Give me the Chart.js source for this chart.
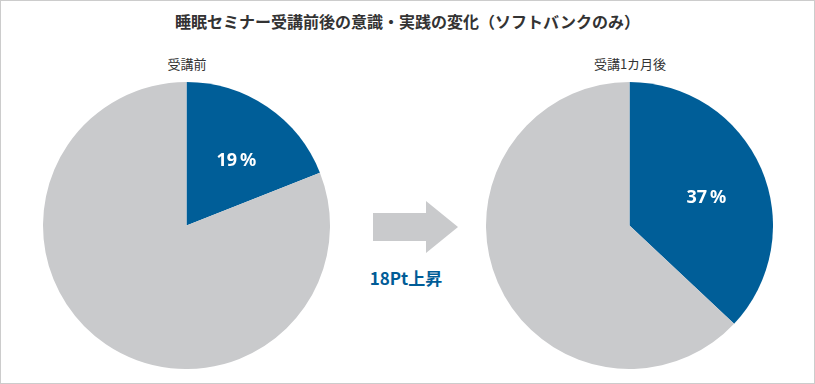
<!DOCTYPE html>
<html lang="ja">
<head>
    <meta charset="UTF-8">
    <title>睡眠セミナー受講前後の意識・実践の変化</title>
    <style>
        html, body {
            margin: 0;
            padding: 0;
            background: #fff;
        }
        body {
            font-family: "Noto Sans CJK JP", "Noto Sans", sans-serif;
            color: #333;
        }
        .frame {
            position: relative;
            width: 813px;
            height: 382px;
            border: 1px solid #cccccc;
            overflow: hidden;
        }
        .titulo {
            position: absolute;
            left: 0;
            width: 813px;
            top: 8px;
            text-align: center;
            font-size: 16px;
            font-weight: bold;
        }
        .sub {
            position: absolute;
            top: 53px;
            width: 200px;
            text-align: center;
            font-size: 13px;
        }
        .pie {
            position: absolute;
            top: 81px;
            width: 287px;
            height: 287px;
        }
        .rise {
            position: absolute;
            left: 345px;
            width: 120px;
            top: 264px;
            text-align: center;
            color: #005c97;
            font-size: 17px;
            font-weight: bold;
        }
        svg.arrow {
            position: absolute;
            left: 371px;
            top: 199px;
        }
    </style>
</head>
<body>
<div class="frame">
    <div class="titulo">睡眠セミナー受講前後の意識・実践の変化（ソフトバンクのみ）</div>
    <div class="sub" style="left:86px">受講前</div>
    <div class="sub" style="left:529px">受講1カ月後</div>

    <div class="pie" style="left:42px"><canvas id="beforeChart"></canvas></div>
    <div class="pie" style="left:485px"><canvas id="afterChart"></canvas></div>

    <svg class="arrow" width="90" height="56">
        <polygon points="1,13 54,13 54,1 86,27 54,53 54,41 1,41" fill="#c9cacc"/>
    </svg>
    <div class="rise">18Pt上昇</div>
</div>

<script src="https://cdn.jsdelivr.net/npm/chart.js"></script>
<script>
    const labels = ['該当', 'その他'];
    const beforeValues = [19, 81];
    const afterValues = [37, 63];
    const colors = ['#005e98', '#c9cacc'];

    // porcentaje en blanco dentro del sector azul
    const pctLabel = {
        id: 'pctLabel',
        afterDatasetsDraw(chart) {
            const ctx = chart.ctx;
            const arc = chart.getDatasetMeta(0).data[0];
            const val = chart.data.datasets[0].data[0];
            const mid = (arc.startAngle + arc.endAngle) / 2 + 0.06;
            const r = arc.outerRadius * 0.57;
            const x = arc.x + Math.cos(mid) * r;
            const y = arc.y + Math.sin(mid) * r;
            ctx.save();
            ctx.fillStyle = '#fff';
            ctx.font = 'bold 18px "Noto Sans", sans-serif';
            ctx.textAlign = 'center';
            ctx.textBaseline = 'middle';
            ctx.fillText(val + '\u2009%', x, y);
            ctx.restore();
        }
    };

    function makePie(id, values) {
        new Chart(document.getElementById(id), {
            type: 'pie',
            data: {
                labels: labels,
                datasets: [{
                    data: values,
                    backgroundColor: colors,
                    borderWidth: 0
                }]
            },
            options: {
                responsive: true,
                maintainAspectRatio: false,
                animation: false,
                layout: { padding: 0 },
                plugins: {
                    legend: { display: false },
                    tooltip: { enabled: false }
                }
            },
            plugins: [pctLabel]
        });
    }

    makePie('beforeChart', beforeValues);
    makePie('afterChart', afterValues);
</script>
</body>
</html>
